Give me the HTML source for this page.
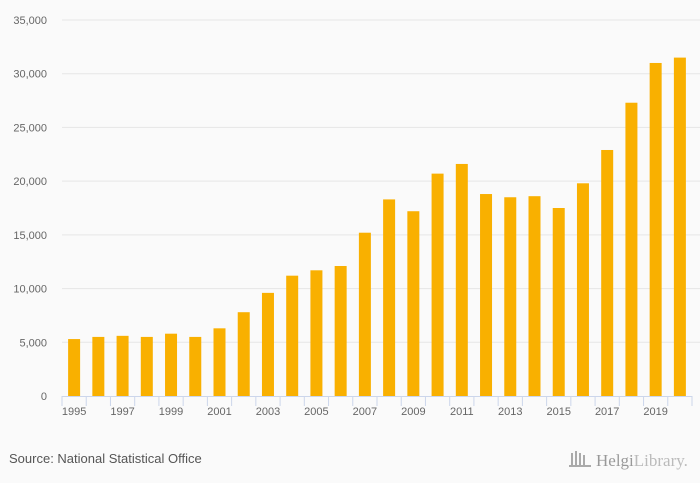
<!DOCTYPE html>
<html><head><meta charset="utf-8"><style>
body{margin:0;background:#fafafa;font-family:"Liberation Sans",sans-serif;}
svg{display:block}
</style></head><body>
<svg width="700" height="483">
<g id="grid"></g>
<g id="bars"></g>
<g id="axis"></g>
<text x="9" y="463" font-size="13" fill="#555">Source: National Statistical Office</text>
<g>
<rect x="571" y="453" width="2" height="13" fill="#aaa"/><rect x="575" y="451" width="2" height="15" fill="#aaa"/><rect x="579" y="453" width="2" height="13" fill="#aaa"/><rect x="583" y="455" width="2" height="11" fill="#aaa"/>
<rect x="569" y="465" width="22" height="2" fill="#aaa"/>
<text x="596" y="466" font-size="17" font-family="Liberation Serif,serif" fill="#999">Helgi<tspan fill="#bbb">Library.</tspan></text>
</g>
</svg>
<script>
const categories=[1995,1996,1997,1998,1999,2000,2001,2002,2003,2004,2005,2006,2007,2008,2009,2010,2011,2012,2013,2014,2015,2016,2017,2018,2019,2020];
const values=[5300,5500,5600,5500,5800,5500,6300,7800,9600,11200,11700,12100,15200,18300,17200,20700,21600,18800,18500,18600,17500,19800,22900,27300,31000,31500];
const yTicks=[0,5000,10000,15000,20000,25000,30000,35000];
const ns="http://www.w3.org/2000/svg";
const x0=62,x1=692,y0=396,yTop=20,yMax=35000;
const cw=(x1-x0)/categories.length;
function y(v){return y0-(v/yMax)*(y0-yTop);}
function xc(i){return x0+cw*(i+0.5);}
function mk(t,a,p){const e=document.createElementNS(ns,t);for(const k in a)e.setAttribute(k,a[k]);p.appendChild(e);return e;}
const grid=document.getElementById('grid'),bars=document.getElementById('bars'),axis=document.getElementById('axis');
yTicks.forEach(v=>{
  if(v>0){const l=mk('line',{x1:x0,x2:x1+8,y1:y(v),y2:y(v),stroke:'#e6e6e6'},grid);
  
  }
  const t=mk('text',{x:47,y:y(v)+4,'text-anchor':'end','font-size':'11',fill:'#666'},grid);
  
  
  t.textContent=v.toLocaleString('en-US');
});
values.forEach((v,i)=>{
  const r=mk('rect',{x:xc(i)-6,y:y(v),width:12,height:y0-y(v),fill:'#f9b000'},bars);
  
  
});
mk('line',{x1:x0,x2:x1,y1:y0+0.5,y2:y0+0.5,stroke:'#ccd6eb'},axis);
for(let i=0;i<=categories.length;i++){mk('line',{x1:x0+cw*i,x2:x0+cw*i,y1:y0,y2:y0+10,stroke:'#ccd6eb'},axis);}
categories.forEach((c,i)=>{
  if(i%2)return;
  const t=mk('text',{x:xc(i),y:y0+19,'text-anchor':'middle','font-size':'11',fill:'#666'},axis);
  
  
  t.textContent=c;
});
</script>
</body></html>
